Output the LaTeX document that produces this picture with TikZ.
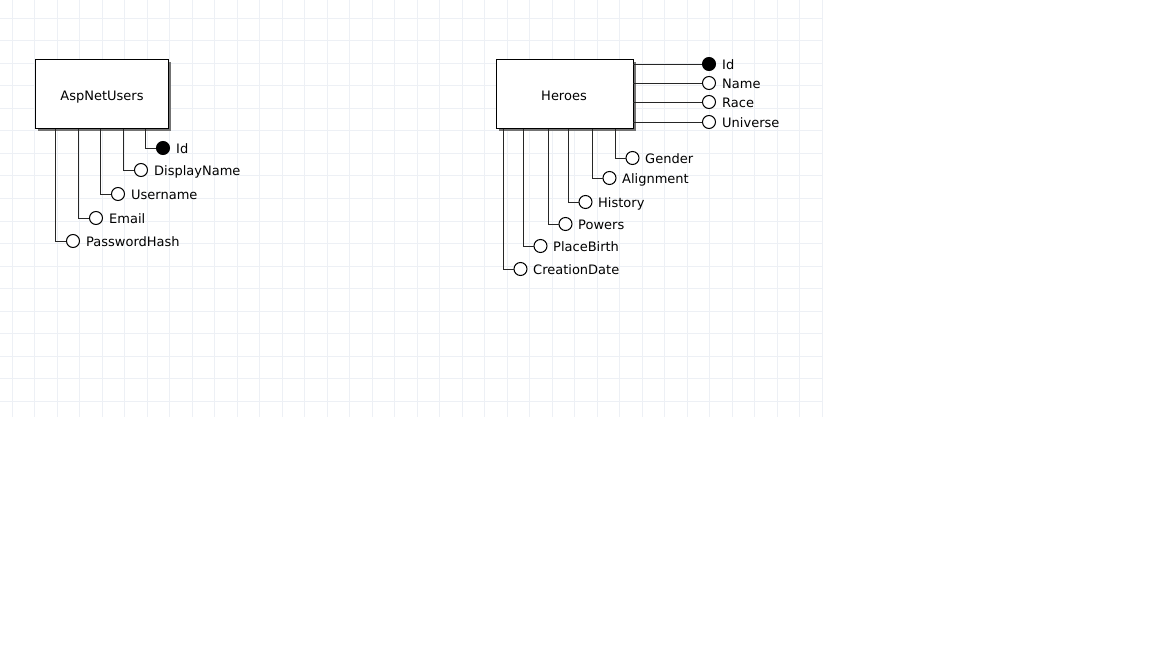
\documentclass[tikz,border=0pt]{standalone}
\usepackage{fontspec}
\setmainfont{DejaVu Sans}
\begin{document}
\begin{tikzpicture}[x=1pt,y=-1pt,
  gridline/.style={draw=gridc,line width=0.8pt},
  entity/.style={draw=black,fill=white,line width=1pt,minimum width=133pt,minimum height=69pt,inner sep=0pt},
  etext/.style={anchor=base,inner sep=0pt,font=\fontsize{13}{15}\selectfont},
  shadow/.style={fill=black!55},
  link/.style={draw=black!85,line width=1pt},
  attr/.style={circle,draw=black,fill=white,line width=1pt,minimum size=13pt,inner sep=0pt},
  key/.style={attr,fill=black},
  lbl/.style={anchor=base west,inner sep=0pt,font=\fontsize{13}{15}\selectfont}]
\definecolor{gridc}{HTML}{EDF0F5}
\useasboundingbox (0,0) rectangle (1152,648);
\fill[white] (0,0) rectangle (1152,648);
% grid
\foreach \i in {0,...,36} \draw[gridline] (12+22.5*\i,0) -- (12+22.5*\i,417);
\foreach \j in {0,...,17} \draw[gridline] (0,18+22.55*\j) -- (822,18+22.55*\j);

% AspNetUsers
\fill[shadow] (38,62) rectangle (171,131);
\node[entity] (users) at (101.5,93.5) {};
\node[etext] (userst) at (102,100.5) {AspNetUsers};
% Heroes
\fill[shadow] (499,62) rectangle (636,131);
\node[entity,minimum width=137pt] (heroes) at (564.5,93.5) {};
\node[etext] (heroest) at (564,100.5) {Heroes};

% AspNetUsers attributes
\foreach \name/\lx/\ly/\txt/\st in {uid/145/148/Id/key, udn/123/170/DisplayName/attr, uun/100/194/Username/attr, uem/78/218/Email/attr, upw/55/241/PasswordHash/attr} {
  \node[\st] (\name) at (\lx+18,\ly) {};
  \node[lbl] (\name t) at (\lx+31,\ly+5.5) {\txt};
  \coordinate (\name c) at (\lx,128.5);
  \draw[link] (\name c) |- (\name);
}

% Heroes right attributes
\foreach \name/\ly/\txt/\st in {hid/64/Id/key, hna/83/Name/attr, hra/102/Race/attr, hun/122/Universe/attr} {
  \node[\st] (\name) at (709,\ly) {};
  \node[lbl] (\name t) at (722,\ly+5.5) {\txt};
  \coordinate (\name c) at (633,\ly);
  \draw[link] (\name c) -- (\name);
}

% Heroes bottom attributes
\foreach \name/\lx/\ly/\txt in {hge/615/158/Gender, hal/592/178/Alignment, hhi/568/202/History, hpo/548/224/Powers, hpb/523/246/PlaceBirth, hcd/503/269/CreationDate} {
  \node[attr] (\name) at (\lx+17.5,\ly) {};
  \node[lbl] (\name t) at (\lx+30,\ly+5.5) {\txt};
  \coordinate (\name c) at (\lx,128.5);
  \draw[link] (\name c) |- (\name);
}
\end{tikzpicture}
\end{document}
